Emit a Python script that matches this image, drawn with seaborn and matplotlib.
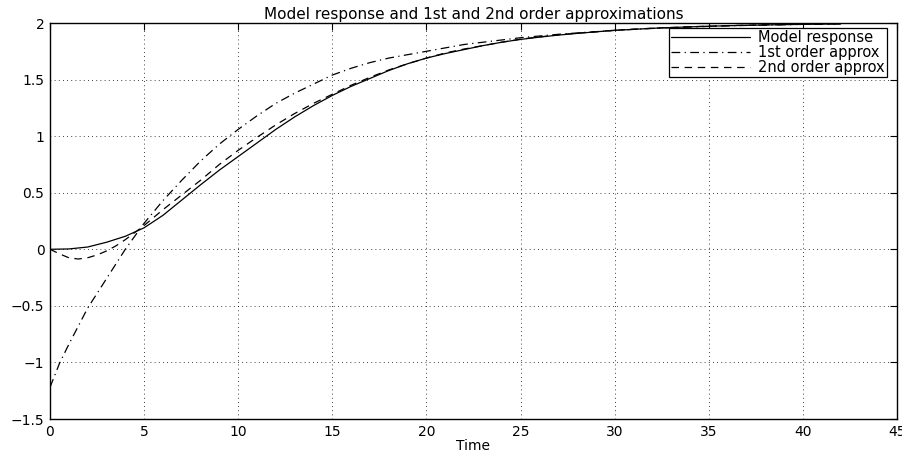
import matplotlib
matplotlib.use("Agg")
import matplotlib.pyplot as plt
import seaborn as sns
import pandas as pd

# ---- data ----
t_model = [0, 1, 2, 3, 4, 5, 6, 7, 8, 9, 10, 11, 12, 13, 14, 15, 16, 17, 18, 19, 20,
           21, 22, 23, 24, 25, 26, 27, 28, 29, 30, 32, 34, 36, 38, 40, 42]
model = [0.0, 0.003, 0.02, 0.062, 0.115, 0.19, 0.30, 0.435, 0.57, 0.70, 0.82, 0.94, 1.06,
         1.17, 1.27, 1.36, 1.44, 1.51, 1.58, 1.64, 1.69, 1.73, 1.765, 1.80, 1.83, 1.855,
         1.875, 1.893, 1.908, 1.922, 1.935, 1.953, 1.966, 1.976, 1.983, 1.988, 1.992]

t_first = [0, 0.5, 1, 2, 3, 4, 5, 6, 7, 8, 9, 10, 11, 12, 13, 14, 15, 16, 17, 18, 19, 20,
           21, 22, 23, 24, 25, 26, 27, 28, 29, 30, 32, 34, 36, 38, 40, 42]
first = [-1.22, -1.01, -0.84, -0.52, -0.26, 0.0, 0.23, 0.43, 0.61, 0.78, 0.93, 1.06, 1.18,
         1.29, 1.38, 1.46, 1.54, 1.60, 1.65, 1.69, 1.72, 1.75, 1.78, 1.81, 1.83, 1.85, 1.87,
         1.885, 1.90, 1.912, 1.923, 1.935, 1.952, 1.965, 1.975, 1.982, 1.988, 1.992]

t_second = [0, 0.5, 1, 1.5, 2, 2.5, 3, 3.5, 4, 5, 6, 7, 8, 9, 10, 11, 12, 13, 14, 15, 16,
            17, 18, 19, 20, 21, 22, 23, 24, 25, 26, 27, 28, 29, 30, 32, 34, 36, 38, 40, 42]
second = [0.0, -0.04, -0.075, -0.086, -0.075, -0.05, -0.015, 0.03, 0.085, 0.21, 0.35, 0.48,
          0.61, 0.75, 0.875, 0.99, 1.10, 1.20, 1.29, 1.37, 1.45, 1.52, 1.585, 1.64, 1.69,
          1.735, 1.77, 1.80, 1.83, 1.857, 1.877, 1.895, 1.91, 1.923, 1.936, 1.954, 1.967,
          1.977, 1.984, 1.989, 1.993]

series_names = ["Model response", "1st order approx", "2nd order approx"]
x_ticks = [0, 5, 10, 15, 20, 25, 30, 35, 40, 45]
y_ticks = [-1.5, -1, -0.5, 0, 0.5, 1, 1.5, 2]
y_tick_labels = ["\u22121.5", "\u22121", "\u22120.5", "0", "0.5", "1", "1.5", "2"]
title = "Model response and 1st and 2nd order approximations"
xlabel = "Time"

df = pd.concat([
    pd.DataFrame({"t": t_model, "y": model, "series": series_names[0]}),
    pd.DataFrame({"t": t_first, "y": first, "series": series_names[1]}),
    pd.DataFrame({"t": t_second, "y": second, "series": series_names[2]}),
], ignore_index=True)

sns.set_style("white")
plt.rcParams["font.family"] = ["DejaVu Sans"]
plt.rcParams["text.color"] = "black"
plt.rcParams["axes.labelcolor"] = "black"
plt.rcParams["xtick.color"] = "black"
plt.rcParams["ytick.color"] = "black"

FS = 10

fig = plt.figure(figsize=(9.02, 4.51), dpi=100)
ax = fig.add_axes([50 / 902, 1 - 419 / 451, 847 / 902, 396 / 451])

styles = ["-", (0, (7, 3.5, 1, 3.5)), (0, (6, 4.5))]
for name, ls in zip(series_names, styles):
    sub = df[df["series"] == name]
    sns.lineplot(data=sub, x="t", y="y", ax=ax, color="black", linewidth=0.9,
                 linestyle=ls, label=name, sort=False, estimator=None)

ax.set_xlim(0, 45)
ax.set_ylim(-1.5, 2)
ax.set_xticks(x_ticks)
ax.set_xticklabels([str(v) for v in x_ticks])
ax.set_yticks(y_ticks)
ax.set_yticklabels(y_tick_labels)
ax.tick_params(direction="in", length=5, width=0.8, top=True, right=True,
               labelsize=FS, colors="black", labelcolor="black", pad=4)
ax.grid(True, linestyle=(0, (1, 4)), color="black", linewidth=0.6)
for sp in ax.spines.values():
    sp.set_visible(True)
    sp.set_color("black")
    sp.set_linewidth(1.0)

ax.set_title(title, fontsize=11, pad=3, color="black")
ax.set_xlabel(xlabel, fontsize=FS, labelpad=0, color="black")
ax.set_ylabel("")

leg = ax.legend(loc="upper right", bbox_to_anchor=((887 - 50) / 847, (419 - 28) / 396),
                fontsize=10.5, frameon=True, fancybox=False,
                edgecolor="black", handlelength=5.4, borderpad=0.15,
                labelspacing=0.0, handletextpad=0.55, borderaxespad=0.0)
leg.get_frame().set_linewidth(0.9)
leg.get_frame().set_alpha(1)
for txt in leg.get_texts():
    txt.set_color("black")

fig.savefig("out.png", dpi=100)
